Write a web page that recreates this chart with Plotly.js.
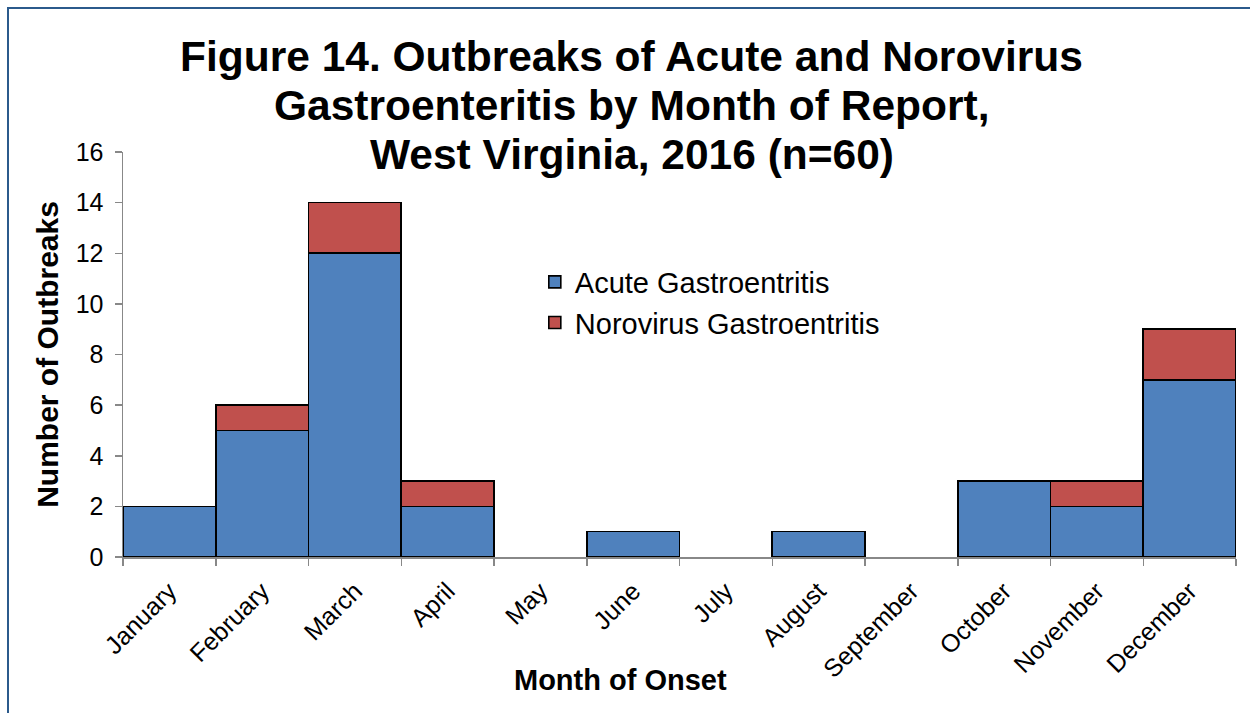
<!DOCTYPE html>
<html>
<head>
<meta charset="utf-8">
<script src="https://cdn.plot.ly/plotly-3.0.1.min.js"></script>
<style>
  body { margin: 0; background: #fff; }
  #chart { width: 1250px; height: 713px; }
  #frame { position: absolute; left: 7px; top: 7px; width: 1260px; height: 720px;
           border-left: 2px solid #2B5A8C; border-top: 2px solid #2B5A8C; pointer-events: none; }
</style>
</head>
<body>
<div id="chart"></div>
<div id="frame"></div>
<script>
const months = ['January', 'February', 'March', 'April', 'May', 'June', 'July',
                'August', 'September', 'October', 'November', 'December'];
const acute = [2, 5, 12, 2, 0, 1, 0, 1, 0, 3, 2, 7];
const norovirus = [0, 1, 2, 1, 0, 0, 0, 0, 0, 0, 1, 2];
const yTicks = [0, 2, 4, 6, 8, 10, 12, 14, 16];
const titleLines = ['Figure 14. Outbreaks of Acute and Norovirus',
                    'Gastroenteritis by Month of Report,',
                    'West Virginia, 2016 (n=60)'];

const FONT = 'Liberation Sans, Arial, sans-serif';

// no outline where the stack is empty, so the axis line stays grey there
const stackTop = acute.map((v, i) => v + norovirus[i]);
const outline = tops => ({ color: '#000', width: tops.map(v => (v ? 1.6 : 0)) });

const traces = [
    {
        x: months, y: acute, name: 'Acute Gastroentritis', type: 'bar',
        legendgroup: 'a',
        marker: { color: '#4F81BD', line: outline(acute) }
    },
    {
        x: months, y: norovirus, name: 'Norovirus Gastroentritis', type: 'bar',
        legendgroup: 'b',
        marker: { color: '#C0504D', line: outline(stackTop) }
    }
];

// title lines as separate annotations to get the tighter line spacing
const titleY = [1.237, 1.116, 0.994];
const annotations = titleLines.map((t, i) => ({
    text: t, xref: 'paper', yref: 'paper', x: 0.457, y: titleY[i],
    xanchor: 'center', yanchor: 'middle', showarrow: false,
    font: { size: 42.5, family: FONT, weight: 'bold', color: '#000' }
}));
annotations.push({
    text: 'Month of Onset', xref: 'paper', yref: 'paper', x: 0.4466, y: -0.304,
    xanchor: 'center', yanchor: 'middle', showarrow: false,
    font: { size: 29, family: FONT, weight: 'bold', color: '#000' }
});

const layout = {
    width: 1250,
    height: 713,
    barmode: 'stack',
    bargap: 0,
    paper_bgcolor: '#fff',
    plot_bgcolor: '#fff',
    font: { family: FONT, color: '#000' },
    margin: { l: 123, r: 14, t: 152, b: 156 },
    annotations: annotations,
    showlegend: true,
    legend: {
        x: 0.37, y: 0.742, xanchor: 'left', yanchor: 'top',
        font: { size: 29 }, tracegroupgap: 0,
        traceorder: 'grouped', bgcolor: 'rgba(0,0,0,0)'
    },
    xaxis: {
        type: 'category',
        tickangle: -45,
        tickson: 'boundaries',
        ticks: 'outside', ticklen: 7, tickcolor: '#888', tickwidth: 1.5,
        showline: true, linecolor: '#888', linewidth: 1.5,
        showgrid: false,
        ticklabelstandoff: 8,
        tickfont: { size: 25 }
    },
    yaxis: {
        range: [0, 16],
        tickvals: yTicks,
        ticks: 'outside', ticklen: 7, tickcolor: '#888', tickwidth: 1.5,
        showline: true, linecolor: '#888', linewidth: 1.5,
        showgrid: false, zeroline: false,
        ticklabelstandoff: 6,
        tickfont: { size: 25 },
        title: { text: 'Number of Outbreaks', font: { size: 30, weight: 'bold' }, standoff: 8 }
    }
};

Plotly.newPlot('chart', traces, layout, { displayModeBar: false, staticPlot: true });
</script>
</body>
</html>
